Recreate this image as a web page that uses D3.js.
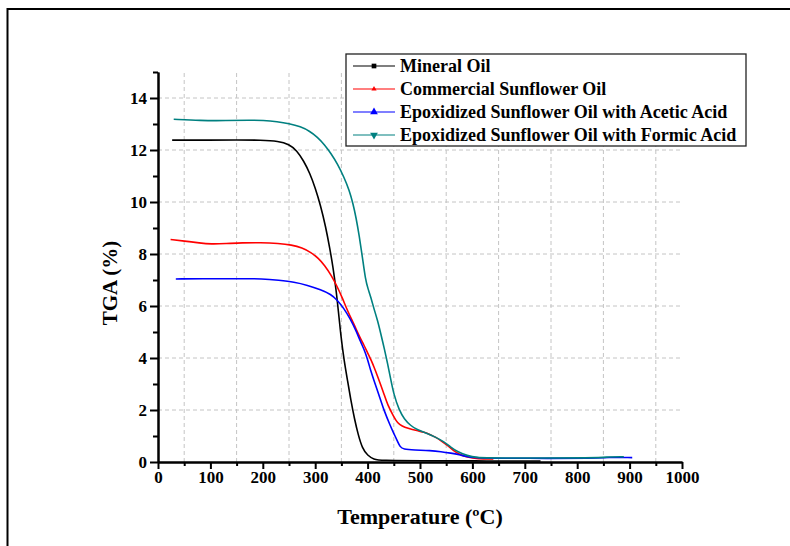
<!DOCTYPE html>
<html>
<head>
<meta charset="utf-8">
<script src="https://cdn.jsdelivr.net/npm/d3@7"></script>
<style>
  body { margin: 0; background: #fff; }
  text { font-family: "Liberation Serif", "Times New Roman", serif; font-weight: bold; }
</style>
</head>
<body>
<script>
var w = 790;
var h = 546;

// data: [temperature (C), TGA (%)]
var mineralOil = [
  [27, 12.38], [100, 12.38], [150, 12.39], [197, 12.38], [230, 12.34], [250, 12.22],
  [265, 11.98], [278, 11.58], [290, 11.1], [300, 10.55], [310, 9.88], [320, 9.05],
  [328, 8.2], [334, 7.5], [340, 6.6], [344, 5.85], [349, 4.85], [355, 3.92], [362, 3.1],
  [368, 2.38], [375, 1.65], [382, 1.05], [390, 0.52], [400, 0.25], [412, 0.1], [425, 0.06],
  [500, 0.05], [600, 0.04], [730, 0.04]
];
var commercialOil = [
  [24, 8.56], [50, 8.5], [80, 8.42], [101, 8.38], [130, 8.4], [160, 8.43], [196, 8.44],
  [230, 8.41], [255, 8.35], [275, 8.24], [292, 8.06], [306, 7.84], [318, 7.56], [330, 7.2],
  [342, 6.75], [352, 6.3], [362, 5.8], [374, 5.3], [385, 4.8], [393, 4.5], [400, 4.2],
  [406, 3.95], [412, 3.67], [419, 3.3], [431, 2.64], [438, 2.2], [450, 1.74], [457, 1.5],
  [466, 1.38], [476, 1.3], [495, 1.2], [508, 1.15], [520, 1.05], [530, 0.95], [540, 0.82],
  [555, 0.6], [565, 0.42], [575, 0.3], [590, 0.18], [610, 0.12], [640, 0.12]
];
var aceticOil = [
  [34, 7.04], [100, 7.05], [150, 7.05], [201, 7.05], [230, 6.99], [260, 6.92], [285, 6.8],
  [311, 6.62], [330, 6.45], [342, 6.23], [355, 5.9], [367, 5.5], [378, 5.05], [387, 4.6],
  [393, 4.35], [400, 3.95], [406, 3.5], [412, 3.15], [425, 2.38], [431, 2.0], [444, 1.36],
  [450, 1.1], [457, 0.8], [462, 0.58], [468, 0.49], [489, 0.46], [520, 0.44], [540, 0.4],
  [559, 0.34], [575, 0.28], [590, 0.2], [610, 0.15], [700, 0.14], [840, 0.14], [855, 0.18],
  [905, 0.17]
];
var formicOil = [
  [30, 13.18], [81, 13.13], [130, 13.13], [177, 13.15], [200, 13.14], [228, 13.09],
  [250, 13.02], [272, 12.9], [290, 12.72], [304, 12.5], [318, 12.2], [330, 11.87],
  [343, 11.45], [355, 10.95], [365, 10.45], [372, 9.95], [378, 9.4], [384, 8.7], [390, 7.9],
  [396, 7.0], [401, 6.65], [406, 6.35], [412, 5.9], [419, 5.45], [425, 4.95], [432, 4.35],
  [438, 3.8], [444, 3.2], [450, 2.6], [460, 2.0], [470, 1.65], [482, 1.4], [495, 1.23],
  [514, 1.1], [530, 0.95], [546, 0.78], [558, 0.58], [571, 0.4], [590, 0.24], [610, 0.17],
  [630, 0.15], [850, 0.15], [855, 0.2], [889, 0.2]
];

var seriesNames = [
  "Mineral Oil",
  "Commercial Sunflower Oil",
  "Epoxidized Sunflower Oil with Acetic Acid",
  "Epoxidized Sunflower Oil with Formic Acid"
];
var seriesColors = ["#000000", "#ff0000", "#0000ff", "#008080"];
var seriesData = [mineralOil, commercialOil, aceticOil, formicOil];

var xTicks = d3.range(0, 1001, 100);
var xMinor = d3.range(50, 1000, 100);
var yTicks = d3.range(0, 15, 2);
var yMinor = d3.range(1, 16, 2);

var xScale = d3.scaleLinear().domain([0, 1000]).range([158, 682]);
var yScale = d3.scaleLinear().domain([0, 15]).range([462, 72]);

var svg = d3.select("body")
  .append("svg")
  .attr("width", w)
  .attr("height", h);

// page frame
svg.append("path")
  .attr("d", "M7.5," + h + "V9H" + w)
  .attr("fill", "none")
  .attr("stroke", "#000")
  .attr("stroke-width", 2);

// grid
svg.append("g")
  .selectAll("line")
  .data(xMinor)
  .enter()
  .append("line")
  .attr("x1", function(d) { return xScale(d); })
  .attr("x2", function(d) { return xScale(d); })
  .attr("y1", yScale(0))
  .attr("y2", yScale(15))
  .attr("stroke", "#c4c4c4")
  .attr("stroke-dasharray", "4,3");

svg.append("g")
  .selectAll("line")
  .data(yTicks.filter(function(d) { return d > 0; }))
  .enter()
  .append("line")
  .attr("x1", xScale(0))
  .attr("x2", xScale(1000))
  .attr("y1", function(d) { return yScale(d); })
  .attr("y2", function(d) { return yScale(d); })
  .attr("stroke", "#c4c4c4")
  .attr("stroke-dasharray", "4,3");

// curves
var line = d3.line()
  .x(function(d) { return xScale(d[0]); })
  .y(function(d) { return yScale(d[1]); })
  .curve(d3.curveBasis);

svg.append("g")
  .selectAll("path")
  .data(seriesData)
  .enter()
  .append("path")
  .attr("d", line)
  .attr("fill", "none")
  .attr("stroke", function(d, i) { return seriesColors[i]; })
  .attr("stroke-width", 1.6);

// axes
var xAxis = d3.axisBottom(xScale).tickValues(xTicks).tickFormat(d3.format("d"))
  .tickSize(7).tickPadding(2).tickSizeOuter(0);
var xAxisMinor = d3.axisBottom(xScale).tickValues(xMinor).tickSize(4).tickFormat("").tickSizeOuter(0);
var yAxis = d3.axisLeft(yScale).tickValues(yTicks).tickSize(8).tickPadding(3).tickSizeOuter(0);
var yAxisMinor = d3.axisLeft(yScale).tickValues(yMinor).tickSize(5).tickFormat("").tickSizeOuter(0);

function styleAxis(g) {
  g.selectAll("path").attr("stroke", "#000").attr("stroke-width", 2);
  g.selectAll("line").attr("stroke", "#000").attr("stroke-width", 2);
  g.selectAll("text").attr("font-size", 17).attr("fill", "#000")
    .style("font-family", "'Liberation Serif', serif").style("font-weight", "bold");
}

svg.append("g").attr("transform", "translate(0,462)").call(xAxisMinor).call(styleAxis);
svg.append("g").attr("transform", "translate(0,462)").call(xAxis).call(styleAxis);
svg.append("g").attr("transform", "translate(158,0)").call(yAxisMinor).call(styleAxis);
svg.append("g").attr("transform", "translate(158,0)").call(yAxis).call(styleAxis);

// axis titles
svg.append("text")
  .attr("x", 420)
  .attr("y", 524)
  .attr("text-anchor", "middle")
  .attr("font-size", 22)
  .text("Temperature (ºC)");

svg.append("text")
  .attr("transform", "translate(117,283) rotate(-90)")
  .attr("text-anchor", "middle")
  .attr("font-size", 21)
  .text("TGA (%)");

// legend
var legend = svg.append("g");
legend.append("rect")
  .attr("x", 346)
  .attr("y", 54)
  .attr("width", 400)
  .attr("height", 92)
  .attr("fill", "#fff")
  .attr("stroke", "#222")
  .attr("stroke-width", 1.3);

var rows = legend.selectAll("g.row")
  .data(seriesNames)
  .enter()
  .append("g")
  .attr("class", "row")
  .attr("transform", function(d, i) { return "translate(0," + (66 + i * 23) + ")"; });

rows.append("line")
  .attr("x1", 353)
  .attr("x2", 395)
  .attr("stroke", function(d, i) { return seriesColors[i]; })
  .attr("stroke-width", 1.2);

var symbols = [d3.symbolSquare, d3.symbolTriangle, d3.symbolTriangle, d3.symbolTriangle];
var symbolSizes = [22, 12, 26, 26];
rows.append("path")
  .attr("d", function(d, i) { return d3.symbol().type(symbols[i]).size(symbolSizes[i])(); })
  .attr("transform", function(d, i) { return "translate(374,0)" + (i === 3 ? " rotate(180)" : ""); })
  .attr("fill", function(d, i) { return seriesColors[i]; });

rows.append("text")
  .attr("x", 400)
  .attr("dy", "0.35em")
  .attr("font-size", 18)
  .text(function(d) { return d; });
</script>
</body>
</html>
